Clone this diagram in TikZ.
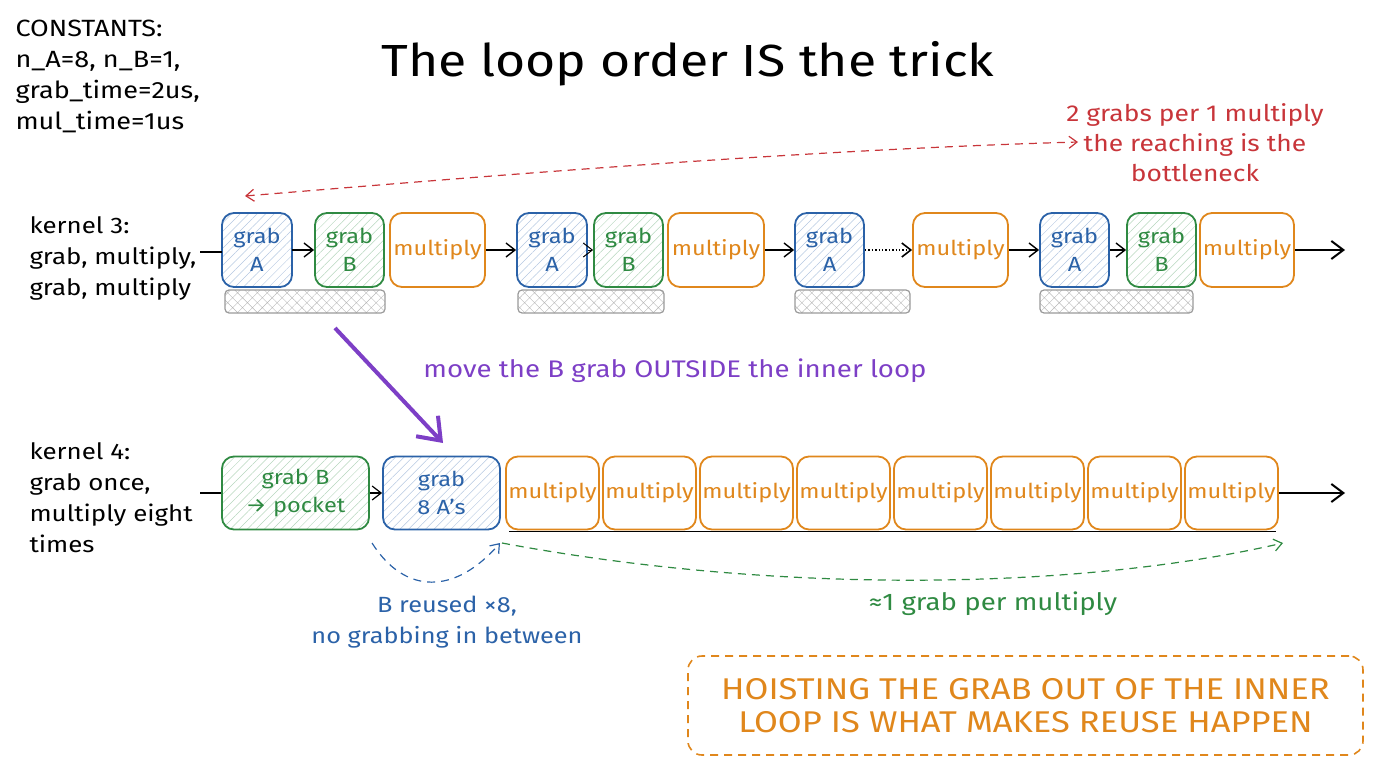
\documentclass[tikz,border=0pt]{standalone}
\usepackage{fontspec}
\setmainfont{Fira Sans}[FakeStretch=1.15]
\usetikzlibrary{arrows.meta,patterns.meta}
\definecolor{cblue}{HTML}{2B62A8}
\definecolor{cgreen}{HTML}{2F8A42}
\definecolor{corange}{HTML}{E0871C}
\definecolor{cred}{HTML}{C8353A}
\definecolor{cpurple}{HTML}{7D3FC6}
\definecolor{cgray}{HTML}{9A9A9A}
\newcommand{\fs}[2]{\fontsize{#1}{#2}\selectfont}
\tikzset{
  box/.style={rounded corners=12pt, line width=1.8pt, minimum height=74pt, inner sep=0pt, align=center, font=\fs{20.5}{28}},
  gA/.style={box, draw=cblue, text=cblue, pattern={Lines[angle=45,distance=6pt,line width=0.5pt]}, pattern color=cblue!35},
  gB/.style={box, draw=cgreen, text=cgreen, pattern={Lines[angle=45,distance=6pt,line width=0.5pt]}, pattern color=cgreen!35},
  mul/.style={box, draw=corange, text=corange, fill=white},
  bar/.style={rounded corners=4pt, draw=cgray, line width=1.2pt, minimum height=23pt, inner sep=0pt, pattern={Hatch[angle=45,distance=7pt,line width=0.4pt]}, pattern color=cgray!70},
  arr/.style={-{Straight Barb[length=9pt,width=14pt]}, line width=1.4pt},
  longdash/.style={dash pattern=on 8pt off 6pt},
  lbl/.style={anchor=west, align=left, font=\fs{22.5}{31}},
}
\begin{document}
\begin{tikzpicture}[x=1pt,y=-1pt]
\useasboundingbox (0,0) rectangle (1376,768);
% title
\node (title) at (688,64) {\fs{45}{50}The loop order IS the trick};
% constants
\node[lbl, anchor=north west, font=\fs{23.5}{31}] (const) at (12,16) {CONSTANTS:\\n\_A=8, n\_B=1,\\grab\_time=2us,\\mul\_time=1us};
% red note
\node[align=center, text=cred, font=\fs{23}{30}] (rednote) at (1195,143) {2 grabs per 1 multiply\\the reaching is the\\bottleneck};
\coordinate (redR) at (1078,142);
\coordinate (redL) at (245,196);
\draw[cred, longdash, line width=1.2pt, {Straight Barb[length=8pt,width=12pt]}-{Straight Barb[length=8pt,width=12pt]}] (redL) .. controls (500,175) and (800,150) .. (redR);
% kernel 3
\node[lbl] (k3) at (26,258) {kernel 3:\\grab, multiply,\\grab, multiply};
\node[gA, minimum width=70pt] (a1) at (257,250) {grab\\A};
\node[gB, minimum width=69pt] (b1) at (349.5,250) {grab\\B};
\node[mul, minimum width=95pt] (m1) at (437.5,250) {multiply};
\node[gA, minimum width=70pt] (a2) at (552,250) {grab\\A};
\node[gB, minimum width=69pt] (b2) at (628.5,250) {grab\\B};
\node[mul, minimum width=96pt] (m2) at (716,250) {multiply};
\node[gA, minimum width=69pt] (a3) at (829.5,250) {grab\\A};
\node[mul, minimum width=95pt] (m3) at (960.5,250) {multiply};
\node[gA, minimum width=69pt] (a4) at (1074.5,250) {grab\\A};
\node[gB, minimum width=69pt] (b4) at (1161.5,250) {grab\\B};
\node[mul, minimum width=94pt] (m4) at (1247,250) {multiply};
\coordinate (in1) at (200,252);
\coordinate (out1) at (1345,250);
\draw[line width=1.2pt] (in1) -- (a1.west |- in1);
\draw[arr] (a1) -- (b1);
\draw[arr] (m1) -- (a2);
\draw[arr, line width=1pt] (a2) -- (b2);
\draw[arr] (m2) -- (a3);
\draw[arr, dotted, line width=1.6pt] (a3) -- (m3);
\draw[arr] (m3) -- (a4);
\draw[arr] (a4) -- (b4);
\draw[arr, line width=2pt, -{Straight Barb[length=12pt,width=18pt]}] (m4) -- (out1);
% bars
\node[bar, minimum width=160pt] (bar1) at (305,301.5) {};
\node[bar, minimum width=146pt] (bar2) at (591,301.5) {};
\node[bar, minimum width=115pt] (bar3) at (852.5,301.5) {};
\node[bar, minimum width=153pt] (bar4) at (1116.5,301.5) {};
% purple move
\coordinate (pS) at (335,328);
\coordinate (pE) at (443,443);
\draw[cpurple, line width=4pt, -{Straight Barb[length=20pt,width=30pt,line width=4pt]}] (pS) -- (pE);
\node[text=cpurple, font=\fs{24}{28}] (move) at (675,371) {move the B grab OUTSIDE the inner loop};
% kernel 4
\node[lbl] (k4) at (26,498) {kernel 4:\\grab once,\\multiply eight\\times};
\node[gB, minimum width=147pt, minimum height=73pt] (gp) at (295.5,493) {grab B\\→ pocket};
\node[gA, minimum width=117pt, minimum height=73pt] (a8) at (441.5,493) {grab\\8 A's};
\foreach \i in {1,...,8} {
  \node[mul, minimum width=93pt, minimum height=73pt] (mm\i) at ({552.5+97*(\i-1)},493) {multiply};
}
\coordinate (in2) at (200,493);
\coordinate (out2) at (1345,493);
\draw[line width=1.2pt] (in2) -- (gp);
\draw[arr, line width=1.2pt] (gp) -- (a8);
\draw[arr, line width=2pt, -{Straight Barb[length=12pt,width=18pt]}] (mm8) -- (out2);
\draw[line width=1.6pt] ([xshift=4pt,yshift=-1pt]mm1.south west) -- ([xshift=-3pt,yshift=-1pt]mm8.south east);
% blue reuse
\coordinate (bS) at (372,543);
\coordinate (bE) at (500,543);
\draw[cblue, longdash, line width=1.2pt, -{Straight Barb[length=8pt,width=12pt]}] (bS) .. controls (405,595) and (455,595) .. (bE);
\node[text=cblue, align=center, font=\fs{22}{31}] (reuse) at (447,622) {B reused ×8,\\no grabbing in between};
% green
\coordinate (gS) at (502,543);
\coordinate (gE) at (1283,543);
\draw[cgreen, longdash, line width=1.2pt, -{Straight Barb[length=8pt,width=12pt]}] (gS) .. controls (780,595) and (1080,590) .. (gE);
\node[text=cgreen, font=\fs{24}{28}] (approx) at (993,604) {≈1 grab per multiply};
% orange note
\node[draw=corange, longdash, line width=1.6pt, rounded corners=14pt, text=corange, align=center, minimum width=675pt, minimum height=99pt, font=\fs{30}{33}] (hoist) at (1025.5,705.5) {HOISTING THE GRAB OUT OF THE INNER\\LOOP IS WHAT MAKES REUSE HAPPEN};
\end{tikzpicture}
\end{document}
